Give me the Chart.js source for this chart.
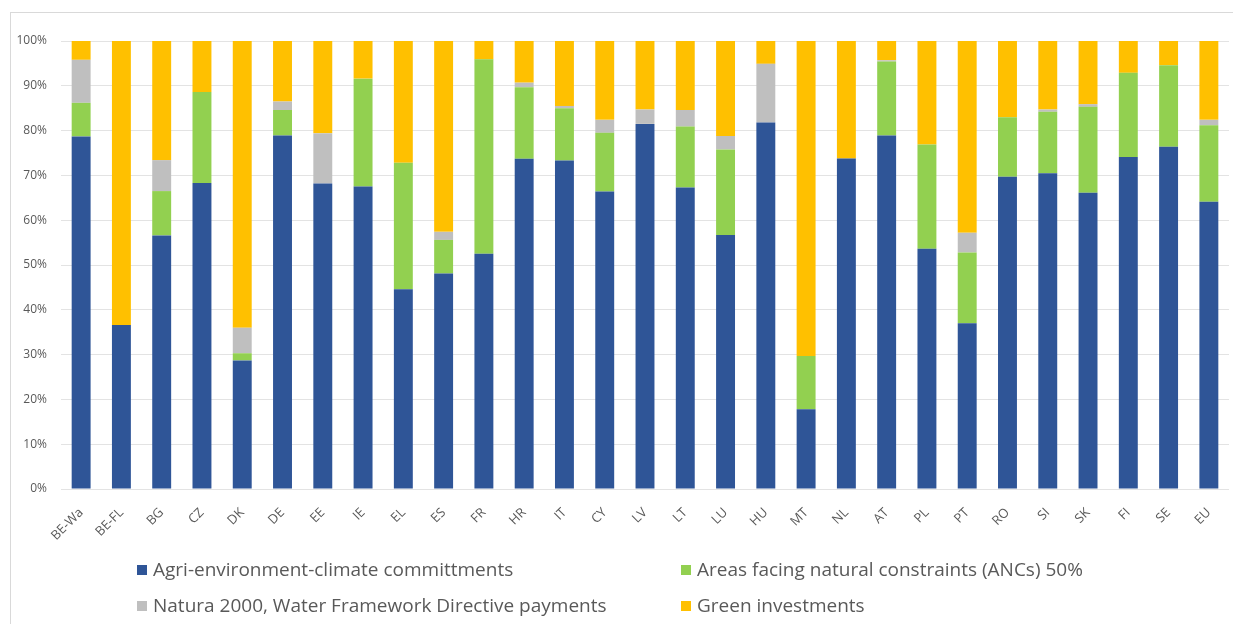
<!DOCTYPE html>
<html>
<head>
<meta charset="utf-8">
<script src="https://cdn.jsdelivr.net/npm/chart.js@4"></script>
<style>
  html, body { margin: 0; padding: 0; background: #fff; }
  #wrap { position: relative; width: 1233px; height: 624px; overflow: hidden; background: #fff; }
  #frame { position: absolute; left: 10px; top: 12px; width: 1240px; height: 700px; border-left: 1px solid #d9d9d9; border-top: 1px solid #d9d9d9; }
  #chartBox { position: absolute; left: 0; top: 0; width: 1233px; height: 624px; }
  .leg { position: absolute; font-family: "Open Sans", sans-serif; font-size: 19px; color: #595959; white-space: nowrap; line-height: 22px; }
  .leg span.sw { display: inline-block; width: 10px; height: 10px; margin-right: 6px; vertical-align: 1px; }
</style>
</head>
<body>
<div id="wrap">
  <div id="frame"></div>
  <div id="chartBox"><canvas id="c" width="1233" height="624"></canvas></div>
  <div id="legend"></div>
</div>
<script>
const categories = ["BE-Wa","BE-FL","BG","CZ","DK","DE","EE","IE","EL","ES","FR","HR","IT","CY","LV","LT","LU","HU","MT","NL","AT","PL","PT","RO","SI","SK","FI","SE","EU"];

// shares in %
const agriEnvClimate = [78.7,36.6,56.6,68.3,28.7,78.9,68.2,67.5,44.6,48.1,52.5,73.7,73.3,66.4,81.5,67.3,56.7,81.8,17.8,73.8,78.9,53.6,37.0,69.7,70.5,66.1,74.1,76.4,64.1];
const anc50 =          [7.5,0,9.9,20.3,1.6,5.7,0,24.1,28.2,7.5,43.4,16.0,11.7,13.1,0,13.6,19.1,0,11.9,0,16.5,23.3,15.8,13.3,13.7,19.2,18.8,18.2,17.1];
const natura2000 =     [9.6,0,6.9,0,5.7,1.9,11.2,0,0,1.8,0,1.0,0.5,2.9,3.2,3.7,3.0,13.1,0,0,0.3,0,4.4,0,0.5,0.6,0,0,1.2];
const greenInvest =    [4.2,63.4,26.6,11.4,64.0,13.5,20.6,8.4,27.2,42.6,4.1,9.3,14.5,17.6,15.3,15.4,21.2,5.1,70.3,26.2,4.3,23.1,42.8,17.0,15.3,14.1,7.1,5.4,17.6];

const seriesNames = ["Agri-environment-climate committments","Areas facing natural constraints (ANCs) 50%","Natura 2000, Water Framework Directive payments","Green investments"];
const seriesColors = ["#2F5597","#92D050","#BFBFBF","#FFC000"];
const yTicks = [0,10,20,30,40,50,60,70,80,90,100];

const values = [agriEnvClimate, anc50, natura2000, greenInvest];
const datasets = values.map((v,i)=>({
  label: seriesNames[i],
  data: v,
  backgroundColor: seriesColors[i],
  borderWidth: 0,
  barPercentage: 0.47,
  categoryPercentage: 1.0
}));

new Chart(document.getElementById('c'), {
  type: 'bar',
  data: { labels: categories, datasets },
  options: {
    responsive: false,
    animation: false,
    layout: { padding: { top: 41, right: 4, left: 0, bottom: 0 } },
    plugins: { legend: { display: false }, tooltip: { enabled: false } },
    scales: {
      x: {
        stacked: true,
        grid: { display: false },
        border: { display: false },
        ticks: { color: '#595959', font: { family: "Open Sans", size: 13 }, minRotation: 45, maxRotation: 45, padding: 8 },
        afterFit: s => { s.height = 135; }
      },
      y: {
        stacked: true,
        min: 0, max: 100,
        afterBuildTicks: s => { s.ticks = yTicks.map(v => ({ value: v })); },
        grid: { color: '#e3e3e3', drawTicks: false, lineWidth: 1 },
        border: { display: false },
        ticks: { color: '#595959', font: { family: "Open Sans", size: 12 }, padding: 14, callback: v => v + '%' },
        afterFit: s => { s.width = 61; }
      }
    }
  }
});

// legend (two columns, built from the series arrays)
const legend = document.getElementById('legend');
const legPos = [[137,558],[681,558],[137,594],[681,594]];
seriesNames.forEach((n,i)=>{
  const d = document.createElement('div');
  d.className = 'leg';
  d.style.left = legPos[i][0] + 'px';
  d.style.top = legPos[i][1] + 'px';
  d.innerHTML = '<span class="sw" style="background:' + seriesColors[i] + '"></span>';
  d.appendChild(document.createTextNode(n));
  legend.appendChild(d);
});
</script>
</body>
</html>
